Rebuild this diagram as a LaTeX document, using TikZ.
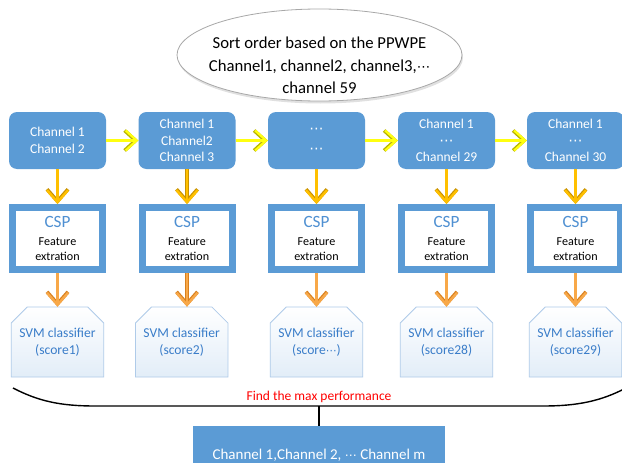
\documentclass[tikz,border=0pt]{standalone}
\usepackage{fontspec}
\setmainfont{Carlito}
\newfontfamily\symfont{DejaVu Sans}
\usetikzlibrary{arrows.meta,shapes.geometric,shapes.misc,shadows}

% midline ellipsis, scaled to the surrounding text
\newcommand{\midots}[1][0.8]{{\symfont\fontsize{#1em}{1em}\selectfont ⋯}}

\definecolor{boxblue}{HTML}{5B9BD5}
\definecolor{cspblue}{HTML}{4F90D2}
\definecolor{svmtext}{HTML}{3A7DC9}
\definecolor{svmline}{HTML}{AFCBE9}
\definecolor{svmfill}{HTML}{E2EDF8}
\definecolor{ylwedge}{HTML}{B9B400}
\definecolor{ylwfill}{HTML}{FFFF10}
\definecolor{goldedge}{HTML}{C99200}
\definecolor{goldfill}{HTML}{FFC000}
\definecolor{orgedge}{HTML}{D8801E}
\definecolor{orgfill}{HTML}{F8A848}
\definecolor{maxred}{HTML}{FF0000}
\definecolor{ellrim}{HTML}{A8A8A8}

\tikzset{
  chanbox/.style={rectangle, rounded corners=8pt, fill=boxblue, text=white,
    minimum width=97pt, minimum height=57pt, align=center, inner sep=0pt,
    font=\fontsize{13.5}{16.8}\selectfont},
  cspbox/.style={rectangle, draw=boxblue, line width=7pt, fill=white,
    minimum width=90pt, minimum height=62pt, inner sep=0pt},
  csptitle/.style={text=cspblue, inner sep=0pt, font=\fontsize{17.2}{20}\selectfont},
  cspsub/.style={text=black, align=center, inner sep=0pt,
    font=\fontsize{12.1}{14.8}\selectfont},
  svmbox/.style={chamfered rectangle, chamfered rectangle corners={north west,north east},
    chamfered rectangle sep=8pt, draw=svmline, line width=0.8pt,
    top color=white, bottom color=svmfill, minimum width=87pt, minimum height=70pt,
    align=center, text=svmtext, inner sep=0pt, font=\fontsize{13.6}{16.5}\selectfont},
  sortell/.style={ellipse, draw=ellrim, line width=0.8pt, fill=white,
    minimum width=285pt, minimum height=92pt},
  ellshadow/.style={ellipse, fill=black, opacity=0.12,
    minimum width=285pt, minimum height=92pt},
  sorttext/.style={align=center, inner sep=0pt, font=\fontsize{16.7}{22.5}\selectfont},
  finalbox/.style={rectangle, fill=boxblue, text=white, minimum width=252pt, minimum height=58pt,
    inner sep=0pt, font=\fontsize{15}{18}\selectfont},
  maxlabel/.style={text=maxred, inner sep=0pt, font=\fontsize{13.5}{16}\selectfont},
  ylwarrow/.style={line width=2.2pt, draw=ylwfill, -{Straight Barb[length=11pt,width=20pt]},
    preaction={draw=ylwedge, line width=3.6pt, -{Straight Barb[length=11pt,width=20pt]}}},
  goldarrow/.style={line width=2.4pt, draw=goldfill, -{Straight Barb[length=12pt,width=21pt]},
    preaction={draw=goldedge, line width=3.6pt, -{Straight Barb[length=12pt,width=21pt]}}},
  orgarrow/.style={line width=2.4pt, draw=orgfill, -{Straight Barb[length=12pt,width=21pt]},
    preaction={draw=orgedge, line width=3.6pt, -{Straight Barb[length=12pt,width=21pt]}}},
  bracket/.style={draw=black, line width=1.4pt},
}

\begin{document}
\begin{tikzpicture}[x=1pt, y=-1pt]
\useasboundingbox (0,0) rectangle (622,463);
\fill[white] (0,0) rectangle (622,463);

% sorted channel list, with a soft shadow below
\node[ellshadow] (sortsh) at (320.5,57.5) {};
\node[sortell] (sort) at (319.5,55) {};
\node[sorttext] (sorttxt) at (319.5,65.5)
  {Sort order based on the PPWPE\\Channel1, channel2, channel3,\midots\\channel 59};

% growing channel subsets
\node[chanbox] (t1) at (57.5,140.5)  {Channel 1\\Channel 2};
\node[chanbox] (t2) at (187,140.5)   {Channel 1\\Channel2\\Channel 3};
\node[chanbox] (t3) at (316.5,140.5) {\midots[1.05]\\[3pt]\midots[1.05]};
\node[chanbox] (t4) at (446.5,140.5) {Channel 1\\\midots[1.05]\\Channel 29};
\node[chanbox] (t5) at (575.5,140.5) {Channel 1\\\midots[1.05]\\Channel 30};

% CSP feature extraction
\foreach \i/\x in {1/57.5, 2/187, 3/316.5, 4/446.5, 5/575.5} {
  \node[cspbox] (c\i) at (\x,238.5) {};
  \node[csptitle] (c\i t) at ([yshift=16.5pt]c\i.center) {CSP};
  \node[cspsub] (c\i s) at ([yshift=-11pt]c\i.center) {Feature\\extration};
}

% SVM classifiers
\node[svmbox] (s1) at (57.5,342)  {SVM classifier\\(score1)};
\node[svmbox] (s2) at (181.7,342) {SVM classifier\\(score2)};
\node[svmbox] (s3) at (316.5,342) {SVM classifier\\(score\midots)};
\node[svmbox] (s4) at (446.5,342) {SVM classifier\\(score28)};
\node[svmbox] (s5) at (575.5,342) {SVM classifier\\(score29)};

% arrows between subsets
\draw[ylwarrow] (t1) -- (t2);
\draw[ylwarrow] (t2) -- (t3);
\draw[ylwarrow] (t3) -- (t4);
\draw[ylwarrow] (t4) -- (t5);

% arrows down each column
\foreach \i in {1,...,5} {
  \draw[goldarrow] (t\i.south) -- (c\i.north);
  \draw[orgarrow] (c\i.south) -- (c\i.south |- s\i.north);
}

% gathering bracket and result
\coordinate (bl) at (13,388);
\coordinate (br) at (626,388);
\coordinate (bmid) at (319,406);
\draw[bracket] (bl) .. controls (38,401) and (60,406) .. (95,406) -- (543,406)
  .. controls (578,406) and (601,401) .. (br);
\node[maxlabel] (maxtxt) at (319,396.5) {Find the max performance};
\node[finalbox] (fin) at (319,455) {Channel 1,Channel 2, \midots\ Channel m};
\draw[black, line width=1.2pt] (bmid) -- (fin.north);
\end{tikzpicture}
\end{document}
